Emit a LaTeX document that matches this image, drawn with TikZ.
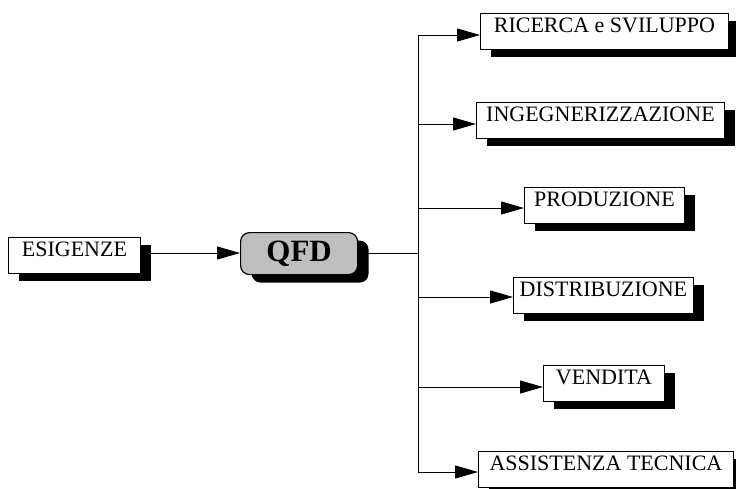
\documentclass[tikz,border=0pt]{standalone}
\usepackage{fontspec}
\setmainfont{Liberation Serif}
\usetikzlibrary{shadows,arrows.meta}

\tikzset{
  shade box/.style={drop shadow={shadow xshift=11pt,shadow yshift=-8pt,fill=black,opacity=1}},
  labelbox/.style={draw=black,line width=0.9pt,fill=white,shade box,anchor=north west,
    inner xsep=0pt,inner ysep=0pt,text height=19.5pt,text depth=16.5pt,
    font=\fontsize{22}{24}\selectfont},
  corebox/.style={draw=black,line width=1.2pt,fill=black!25,rounded corners=9pt,shade box,
    anchor=north west,inner xsep=0pt,inner ysep=0pt,text height=28.5pt,text depth=13.5pt,
    font=\fontsize{31}{33}\selectfont\bfseries},
  link/.style={line width=0.9pt,-{Triangle[length=23pt,width=13pt]}},
  trunk/.style={line width=0.9pt}
}

\begin{document}
\begin{tikzpicture}[x=1pt,y=-1pt]
\useasboundingbox (0,0) rectangle (736,488);

% input, core and outputs
\node[labelbox,minimum width=132pt] (es) at (8,237) {ESIGENZE};
\node[corebox,minimum width=117pt] (qfd) at (240,232) {QFD};

\node[labelbox,minimum width=248pt] (rs) at (480,13)  {RICERCA e SVILUPPO};
\node[labelbox,minimum width=248pt] (ing) at (476,102) {INGEGNERIZZAZIONE};
\node[labelbox,minimum width=160pt] (prod) at (524,187) {PRODUZIONE};
\node[labelbox,minimum width=180pt] (dist) at (513,277) {DISTRIBUZIONE};
\node[labelbox,minimum width=121pt] (vend) at (543,365) {VENDITA};
\node[labelbox,minimum width=255pt] (ass) at (478,451) {ASSISTENZA TECNICA};

% branching points on the vertical trunk
\coordinate (t0) at (418,253);
\coordinate (t1) at (418,35);
\coordinate (t2) at (418,124);
\coordinate (t3) at (418,208);
\coordinate (t4) at (418,297);
\coordinate (t5) at (418,387);
\coordinate (t6) at (418,472);

\draw[link] (es.east |- 0,253) -- (qfd.west |- 0,253);
\draw[trunk] (qfd.east |- t0) -- (t0);
\draw[trunk] (t1) -- (t6);

\draw[link] (t1) -- (t1 -| rs.west);
\draw[link] (t2) -- (t2 -| ing.west);
\draw[link] (t3) -- (t3 -| prod.west);
\draw[link] (t4) -- (t4 -| dist.west);
\draw[link] (t5) -- (t5 -| vend.west);
\draw[link] (t6) -- (t6 -| ass.west);
\end{tikzpicture}
\end{document}
